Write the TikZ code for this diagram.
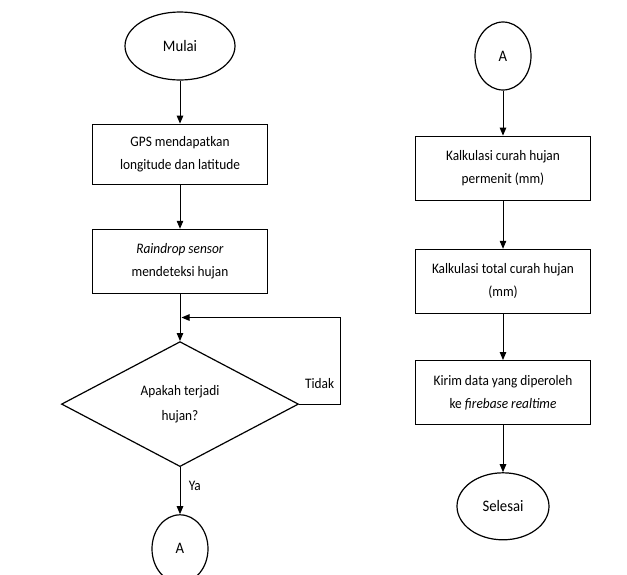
\documentclass[tikz,border=0pt]{standalone}
\usepackage{fontspec}
\setmainfont{Carlito}[FakeStretch=0.92]
\usetikzlibrary{positioning,shapes.geometric,arrows.meta,calc}
\tikzset{
  flow/.style={-{Triangle[length=8pt,width=6.5pt]}, draw, black, line width=1pt},
}

\begin{document}
\begin{tikzpicture}[x=1pt,y=1pt,
            proc/.style={rectangle,draw=black,line width=1.2pt,minimum width=175pt,minimum height=64pt,align=center,font=\fontsize{14.5}{23}\selectfont},
            term/.style={ellipse,draw=black,line width=1.2pt,inner sep=0pt,font=\fontsize{16}{18}\selectfont},
            conn/.style={term,minimum width=56pt,minimum height=68pt},
            cond/.style={diamond,draw=black,line width=1.2pt,minimum width=237pt,minimum height=125pt,inner sep=0pt,align=center,font=\fontsize{14.5}{25}\selectfont}]
            \useasboundingbox (0,0) rectangle (627,-574);

            % left column
            \node[term,minimum width=110pt,minimum height=68pt] (mulai) at (180,-46) {Mulai};
            \node[proc,minimum height=60pt,below=43pt of mulai] (gps) {GPS mendapatkan\\longitude dan latitude};
            \node[proc,below=44pt of gps] (rain) {\textit{Raindrop sensor}\\mendeteksi hujan};
            \node[cond,below=47pt of rain] (cek) {Apakah terjadi\\hujan?};
            \node[conn,below=47pt of cek] (konA) {A};
            \coordinate (join) at ($(rain.south)!0.5!(cek.north)$);

            % right column
            \node[conn] (konB) at (503,-56) {A};
            \node[proc,below=45pt of konB] (kalk) {Kalkulasi curah hujan\\permenit (mm)};
            \node[proc,below=48pt of kalk] (total) {Kalkulasi total curah hujan\\(mm)};
            \node[proc,below=46pt of total] (kirim) {Kirim data yang diperoleh\\ke \textit{firebase realtime}};
            \node[term,minimum width=92pt,minimum height=67pt,below=47pt of kirim] (selesai) {Selesai};

            \draw [flow] (mulai) to (gps);
            \draw [flow] (gps) to (rain);
            \draw [flow] (rain) to (cek);
            \draw [flow] (cek.east) -- node[above=12pt, font=\fontsize{14.5}{16}\selectfont] {Tidak} ++(41,0) |- ([xshift=1.5pt]join);
            \draw [flow] (cek.south) -- node[right=5pt, pos=0.4, font=\fontsize{14.5}{16}\selectfont] {Ya} (konA);
            \draw [flow] (konB) to (kalk);
            \draw [flow] (kalk) to (total);
            \draw [flow] (total) to (kirim);
            \draw [flow] (kirim) to (selesai);
\end{tikzpicture}
\end{document}
